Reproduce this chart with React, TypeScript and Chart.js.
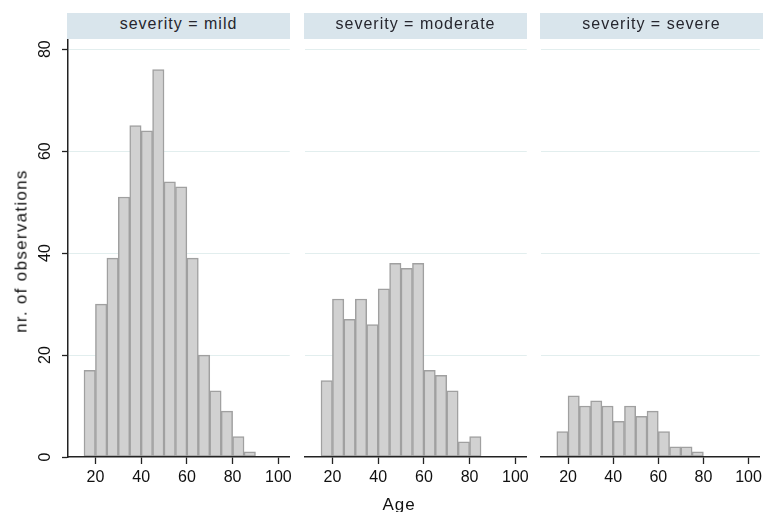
import React, { useEffect, useRef } from "react";
import { Chart, registerables } from "chart.js";

Chart.register(...registerables);

// ---- data ----
const ageBinCenters = [17.5, 22.5, 27.5, 32.5, 37.5, 42.5, 47.5, 52.5, 57.5, 62.5, 67.5, 72.5, 77.5, 82.5, 87.5];
const mildCounts = [17, 30, 39, 51, 65, 64, 76, 54, 53, 39, 20, 13, 9, 4, 1];
const moderateCounts = [15, 31, 27, 31, 26, 33, 38, 37, 38, 17, 16, 13, 3, 4];
const severeCounts = [5, 12, 10, 11, 10, 7, 10, 8, 9, 5, 2, 2, 1];
const panelTitles = ["severity = mild", "severity = moderate", "severity = severe"];
const xTickValues = [20, 40, 60, 80, 100];
const yTickValues = [0, 20, 40, 60, 80];
const xTitle = "Age";
const yTitle = "nr. of observations";

const FONT = '"Liberation Sans", Arial, Helvetica, sans-serif';

type PanelProps = {
  counts: number[];
  canvasLeft: number;
  canvasWidth: number;
  padLeft: number;
  padRight: number;
  showY: boolean;
};

const CANVAS_TOP = 19;
const CANVAS_H = 473;

function Panel({ counts, canvasLeft, canvasWidth, padLeft, padRight, showY }: PanelProps) {
  const ref = useRef<HTMLCanvasElement>(null);
  useEffect(() => {
    if (!ref.current) return;
    const data = counts.map((c, i) => ({ x: ageBinCenters[i], y: c }));
    const yLabelPlugin = {
      id: "yRotLabels",
      afterDraw(chart: any) {
        if (!showY) return;
        const ctx = chart.ctx;
        const s = chart.scales.y;
        const x = chart.chartArea.left - 22.5;
        ctx.save();
        ctx.fillStyle = "#111";
        ctx.font = `16px ${FONT}`;
        ctx.textAlign = "center";
        ctx.textBaseline = "middle";
        for (const v of yTickValues) {
          const py = s.getPixelForValue(v);
          ctx.save();
          ctx.translate(x, py);
          ctx.rotate(-Math.PI / 2);
          ctx.fillText(String(v), 0, 0);
          ctx.restore();
        }
        ctx.restore();
      },
    };
    const chart = new Chart(ref.current, {
      type: "bar",
      data: {
        datasets: [
          {
            data: data as any,
            backgroundColor: "#d1d1d1",
            borderColor: "#a0a0a0",
            borderWidth: 1.5,
            borderSkipped: false as any,
            barPercentage: 1,
            categoryPercentage: 1,
          },
        ],
      },
      options: {
        animation: false,
        responsive: false,
        maintainAspectRatio: false,
        layout: { padding: { top: 20, bottom: 0, left: padLeft, right: padRight } },
        plugins: { legend: { display: false }, tooltip: { enabled: false } },
        scales: {
          x: {
            type: "linear",
            min: 8,
            max: 105,
            offset: false,
            afterBuildTicks: (s: any) => {
              s.ticks = xTickValues.map((v) => ({ value: v }));
            },
            afterFit: (s: any) => {
              s.height = 35;
            },
            grid: {
              offset: false,
              drawOnChartArea: false,
              drawTicks: true,
              tickLength: 7,
              tickColor: "#222",
              tickWidth: 1.3,
            },
            border: { display: true, color: "#222", width: 1.5, z: 1 },
            ticks: {
              color: "#111",
              font: { family: FONT, size: 16 },
              padding: 4,
              maxRotation: 0,
              minRotation: 0,
              autoSkip: false,
            },
          },
          y: {
            type: "linear",
            min: 0,
            max: 82,
            afterBuildTicks: (s: any) => {
              s.ticks = yTickValues.map((v) => ({ value: v }));
            },
            afterFit: (s: any) => {
              s.width = showY ? 68 : 0;
            },
            grid: {
              color: (c: any) => (c.tick && c.tick.value === 0 ? "rgba(0,0,0,0)" : "#e2eeee"),
              lineWidth: 1,
              drawTicks: showY,
              tickLength: 6,
              tickColor: "#222",
              tickWidth: 1.3,
            },
            border: { display: showY, color: "#222", width: 1.5, z: 1 },
            ticks: { display: false },
          },
        },
      },
      plugins: [yLabelPlugin],
    } as any);
    return () => chart.destroy();
  }, [counts, showY, padLeft, padRight]);
  return (
    <canvas
      ref={ref}
      width={canvasWidth}
      height={CANVAS_H}
      style={{ position: "absolute", left: canvasLeft, top: CANVAS_TOP, width: canvasWidth, height: CANVAS_H }}
    />
  );
}

const panels = [
  { counts: mildCounts, canvasLeft: 0, canvasWidth: 296, padLeft: 0, padRight: 6, showY: true, stripLeft: 67, stripRight: 290 },
  { counts: moderateCounts, canvasLeft: 295, canvasWidth: 238, padLeft: 10, padRight: 6, showY: false, stripLeft: 304, stripRight: 527 },
  { counts: severeCounts, canvasLeft: 531, canvasWidth: 235, padLeft: 10, padRight: 3, showY: false, stripLeft: 540, stripRight: 763 },
];

export default function App() {
  return (
    <div
      style={{
        position: "fixed",
        left: 0,
        top: 0,
        width: 766,
        height: 512,
        background: "#fff",
        overflow: "hidden",
        fontFamily: FONT,
      }}
    >
      {panels.map((p, i) => (
        <Panel
          key={i}
          counts={p.counts}
          canvasLeft={p.canvasLeft}
          canvasWidth={p.canvasWidth}
          padLeft={p.padLeft}
          padRight={p.padRight}
          showY={p.showY}
        />
      ))}
      {panels.map((p, i) => (
        <div
          key={"h" + i}
          style={{
            position: "absolute",
            left: p.stripLeft,
            top: 13,
            width: p.stripRight - p.stripLeft,
            height: 26,
            background: "#d9e5ec",
            color: "#26262e",
            fontSize: 16,
            letterSpacing: "1px",
            textAlign: "center",
            lineHeight: "22px",
            whiteSpace: "nowrap",
          }}
        >
          {panelTitles[i]}
        </div>
      ))}
      <div
        style={{
          position: "absolute",
          left: 20.5,
          top: 251,
          transform: "translate(-50%, -50%) rotate(-90deg)",
          fontSize: 17,
          letterSpacing: "1.3px",
          color: "#111",
          whiteSpace: "nowrap",
          lineHeight: "19px",
        }}
      >
        {yTitle}
      </div>
      <div
        style={{
          position: "absolute",
          left: 399,
          top: 494.6,
          transform: "translateX(-50%)",
          fontSize: 17,
          letterSpacing: "1px",
          color: "#111",
          whiteSpace: "nowrap",
          lineHeight: "19px",
        }}
      >
        {xTitle}
      </div>
    </div>
  );
}
